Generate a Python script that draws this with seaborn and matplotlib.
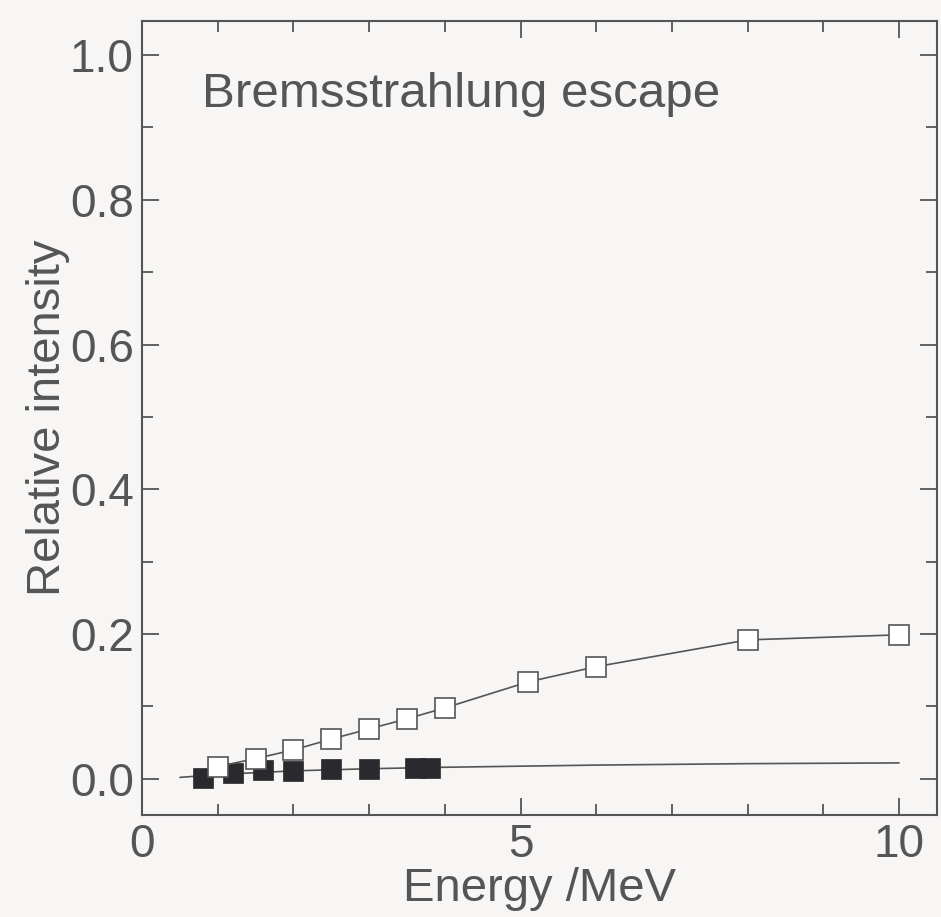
import matplotlib
matplotlib.use("Agg")
import matplotlib.pyplot as plt
from matplotlib.ticker import MultipleLocator
import seaborn as sns
import pandas as pd

# Bremsstrahlung escape fraction vs. photon energy
open_energy = [1.0, 1.5, 2.0, 2.5, 3.0, 3.5, 4.0, 5.1, 6.0, 8.0, 10.0]
open_intensity = [0.017, 0.028, 0.040, 0.055, 0.069, 0.083, 0.098, 0.134, 0.155, 0.192, 0.199]

filled_energy = [0.8, 1.2, 1.6, 2.0, 2.5, 3.0, 3.6, 3.8]
filled_intensity = [0.001, 0.008, 0.012, 0.011, 0.014, 0.014, 0.015, 0.015]

curve_energy = [0.5, 1.0, 2.0, 3.0, 4.0, 6.0, 8.0, 10.0]
curve_intensity = [0.002, 0.006, 0.011, 0.014, 0.016, 0.019, 0.021, 0.022]

x_ticks = [0, 5, 10]
y_ticks = [0.0, 0.2, 0.4, 0.6, 0.8, 1.0]

sns.set_theme(style="ticks")
plt.rcParams["font.family"] = ["Liberation Sans", "DejaVu Sans"]

ink = "#555555"
bg = "#f8f5f5"

fig = plt.figure(figsize=(9.41, 9.17), dpi=100, facecolor=bg)
ax = fig.add_axes([0.151, 0.1112, 0.8447, 0.8658])
ax.set_facecolor(bg)

df_open = pd.DataFrame({"E": open_energy, "I": open_intensity})
df_fill = pd.DataFrame({"E": filled_energy, "I": filled_intensity})
df_curve = pd.DataFrame({"E": curve_energy, "I": curve_intensity})

sns.lineplot(data=df_curve, x="E", y="I", ax=ax, color=ink, lw=1.2, sort=True)
sns.scatterplot(data=df_fill, x="E", y="I", ax=ax, marker="s", s=220,
                color="#2a2a2e", edgecolor="#2a2a2e", linewidth=0.5, zorder=3)
sns.lineplot(data=df_open, x="E", y="I", ax=ax, color=ink, lw=1.2,
             marker="s", markersize=15, markerfacecolor="white",
             markeredgecolor=ink, markeredgewidth=1.2, zorder=4)

ax.set_xlim(0, 10.5)
ax.set_ylim(-0.05, 1.047)
ax.set_xticks(x_ticks)
ax.set_xticklabels([str(t) for t in x_ticks])
ax.set_yticks(y_ticks)
ax.set_yticklabels([f"{t:.1f}" for t in y_ticks])
ax.xaxis.set_minor_locator(MultipleLocator(1))
ax.yaxis.set_minor_locator(MultipleLocator(0.1))

ax.tick_params(which="both", direction="in", top=True, right=True,
               colors=ink, labelcolor=ink, labelsize=33, width=1.3)
ax.tick_params(which="major", length=12, pad=6)
ax.tick_params(which="minor", length=8)
for side in ax.spines.values():
    side.set_color(ink)
    side.set_linewidth(1.5)

ax.set_xlabel("Energy /MeV", fontsize=34, color=ink, labelpad=0)
ax.set_ylabel("Relative intensity", fontsize=34, color=ink, labelpad=0)

ax.text(0.79, 0.928, "Bremsstrahlung escape", fontsize=35.5, color=ink,
        va="baseline", ha="left")

fig.savefig("out.png", dpi=100, facecolor=bg)
